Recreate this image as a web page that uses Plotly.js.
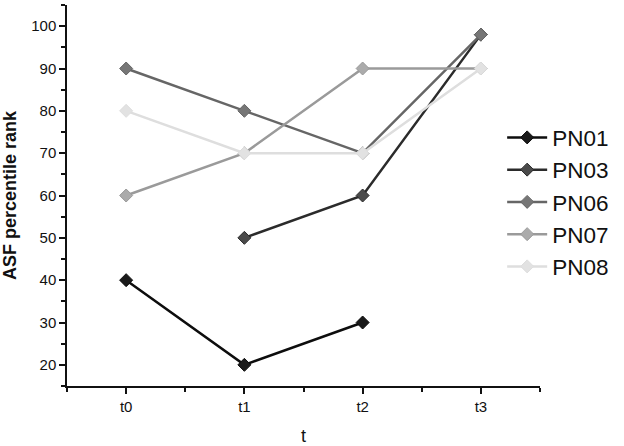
<!DOCTYPE html>
<html>
<head>
<meta charset="utf-8">
<script src="https://cdn.plot.ly/plotly-3.0.1.min.js"></script>
<style>
  html, body { margin: 0; padding: 0; background: #fff; }
  #chart { width: 624px; height: 446px; }
</style>
</head>
<body>
<div id="chart"></div>
<script>
var timepoints = ['t0', 't1', 't2', 't3'];
var xpos = [0, 1, 2, 3];

var pn01 = [40, 20, 30, null];
var pn03 = [null, 50, 60, 98];
var pn06 = [90, 80, 70, 98];
var pn07 = [60, 70, 90, 90];
var pn08 = [80, 70, 70, 90];

var seriesNames = ['PN01', 'PN03', 'PN06', 'PN07', 'PN08'];
var seriesData = [pn01, pn03, pn06, pn07, pn08];
var lineColors = ['#0d0d0d', '#2b2b2b', '#666666', '#9a9a9a', '#dedede'];
var markerColors = ['#1a1a1a', '#4a4a4a', '#767676', '#ababab', '#e2e2e2'];

var traces = [];
for (var i = 0; i < seriesNames.length; i++) {
    traces.push({
        type: 'scatter',
        mode: 'lines+markers',
        name: seriesNames[i],
        x: xpos,
        y: seriesData[i],
        connectgaps: false,
        line: { color: lineColors[i], width: 2.5 },
        marker: {
            symbol: 'diamond',
            size: 10,
            color: markerColors[i],
            line: { color: lineColors[i], width: 1 }
        }
    });
}

var layout = {
    width: 624,
    height: 446,
    margin: { l: 67, r: 84, t: 5, b: 60 },
    paper_bgcolor: '#ffffff',
    plot_bgcolor: '#ffffff',
    font: { family: 'Arial, "Liberation Sans", sans-serif', color: '#111', size: 15 },
    showlegend: true,
    legend: {
        x: 0.92,
        y: 0.708,
        xanchor: 'left',
        yanchor: 'top',
        bgcolor: 'rgba(0,0,0,0)',
        font: { size: 22.5, color: '#111' },
        itemwidth: 40,
        tracegroupgap: 0
    },
    xaxis: {
        range: [-0.5, 3.5],
        tickmode: 'array',
        tickvals: xpos,
        ticktext: timepoints,
        showgrid: false,
        zeroline: false,
        showline: true,
        linecolor: '#111',
        linewidth: 1.5,
        ticks: 'outside',
        ticklen: 6,
        tickwidth: 1.5,
        tickcolor: '#111',
        minor: { tickmode: 'linear', tick0: -0.5, dtick: 1, ticks: 'outside', ticklen: 4, tickwidth: 1.5, tickcolor: '#111', showgrid: false },
        title: { text: 't', font: { size: 18 }, standoff: 16 }
    },
    yaxis: {
        range: [15, 105],
        tickmode: 'linear',
        tick0: 0,
        dtick: 10,
        showgrid: false,
        zeroline: false,
        showline: true,
        linecolor: '#111',
        linewidth: 1.5,
        ticks: 'outside',
        ticklen: 6,
        tickwidth: 1.5,
        tickcolor: '#111',
        minor: { tickmode: 'linear', tick0: 15, dtick: 10, ticks: 'outside', ticklen: 4, tickwidth: 1.5, tickcolor: '#111', showgrid: false },
        title: { text: '<b>ASF percentile rank</b>', font: { size: 18 }, standoff: 10 }
    }
};

Plotly.newPlot('chart', traces, layout, { displayModeBar: false, responsive: false });
</script>
</body>
</html>
